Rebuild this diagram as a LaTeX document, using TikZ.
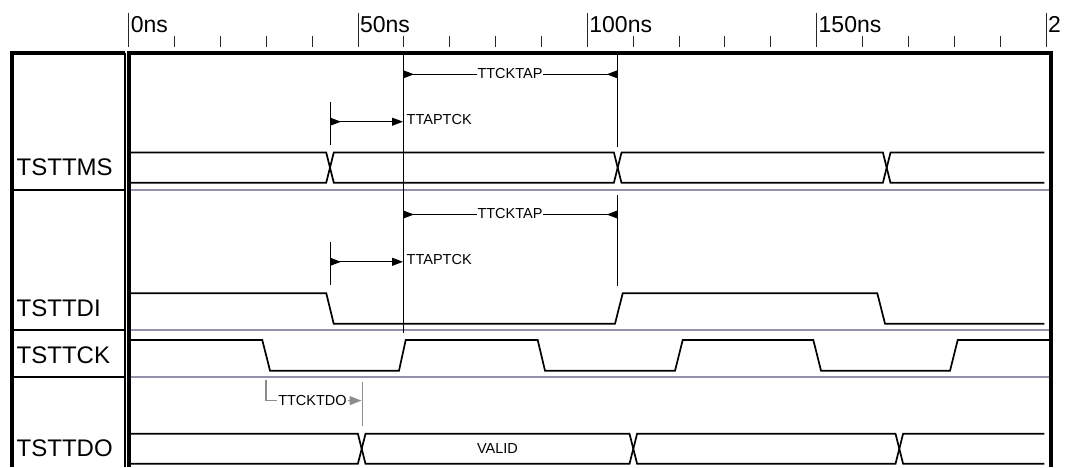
\documentclass[tikz,border=0pt]{standalone}
\usepackage{fontspec}
\setmainfont{Liberation Sans}
\usetikzlibrary{arrows.meta}
\definecolor{sepgray}{RGB}{145,145,172}
\definecolor{dimgray}{RGB}{140,140,140}
\begin{document}
\begin{tikzpicture}[x=1pt,y=-1pt,
  sig/.style={line width=1.7pt,line join=miter,line cap=butt},
  sepline/.style={line width=1.5pt,draw=sepgray},
  colsep/.style={line width=2pt},
  frameline/.style={line width=4pt,line join=miter},
  tickline/.style={line width=1pt,draw=black!85},
  marker/.style={line width=1pt},
  dimline/.style={line width=1pt},
  graydim/.style={line width=1.3pt,draw=dimgray},
  axlbl/.style={anchor=base west,inner sep=0pt,font=\fontsize{23}{27}\selectfont},
  siglbl/.style={anchor=base west,inner sep=0pt,font=\fontsize{24}{28}\selectfont},
  small/.style={inner xsep=0.6pt,inner ysep=0pt,font=\fontsize{14.5}{17}\selectfont},
]
\useasboundingbox (0,0) rectangle (1065,467);

% ---- time axis ----
\foreach \k in {0,...,20}{
  \pgfmathsetmacro{\xx}{128.8+45.86*\k}
  \draw[tickline] (\xx,36) -- (\xx,46.7);
}
\foreach \k in {0,5,10,15,20}{
  \pgfmathsetmacro{\xx}{128.8+45.86*\k}
  \draw[tickline] (\xx,12.7) -- (\xx,46.7);
}
\node[axlbl] (a0)   at (130.6,32.3) {0ns};
\node[axlbl] (a50)  at (359.9,32.3) {50ns};
\node[axlbl] (a100) at (589.2,32.3) {100ns};
\node[axlbl] (a150) at (818.5,32.3) {150ns};
\node[axlbl] (a200) at (1047.8,32.3) {2};

% ---- label column ----
\draw[frameline] (12.3,467) -- (12.3,52.5) -- (125,52.5);
\draw[line width=2.6pt] (125,52.5) -- (125,467);
\draw[colsep] (12.3,190) -- (125,190);
\draw[colsep] (12.3,330) -- (125,330);
\draw[colsep] (12.3,377) -- (125,377);
\node[siglbl] (lTMS) at (16.5,175)   {TSTTMS};
\node[siglbl] (lTDI) at (16.5,316.7) {TSTTDI};
\node[siglbl] (lTCK) at (16.5,363.3) {TSTTCK};
\node[siglbl] (lTDO) at (16.5,456.7) {TSTTDO};

% ---- plot frame ----
\draw[frameline] (129,467) -- (129,52.5) -- (1051,52.5) -- (1051,467);

% ---- row separators ----
\draw[sepline] (131,190) -- (1049,190);
\draw[sepline] (131,330) -- (1049,330);
\draw[sepline] (131,377.2) -- (1049,377.2);

% ---- waveforms ----
% TSTTMS (bus)
\draw[sig] (131,152.5) -- (326.2,152.5) -- (333.8,182.8) -- (613.9,182.8) -- (621.5,152.5) -- (882.9,152.5) -- (890.5,182.8) -- (1044.3,182.8);
\draw[sig] (131,182.8) -- (326.2,182.8) -- (333.8,152.5) -- (613.9,152.5) -- (621.5,182.8) -- (882.9,182.8) -- (890.5,152.5) -- (1044.3,152.5);
% TSTTDI
\draw[sig] (131,293.3) -- (326.3,293.3) -- (333.7,323.7) -- (615,323.7) -- (622.7,293.3) -- (877.3,293.3) -- (885,323.7) -- (1044.3,323.7);
% TSTTCK
\draw[sig] (131,340) -- (262.3,340) -- (270,370.7) -- (399,370.7) -- (405.7,340) -- (537.7,340) -- (545,370.7) -- (675,370.7) -- (682.7,340) -- (813.3,340) -- (821,370.7) -- (950,370.7) -- (957.7,340) -- (1049,340);
% TSTTDO (bus)
\draw[sig] (131,433.8) -- (357.9,433.8) -- (365.5,463.8) -- (629.5,463.8) -- (637.1,433.8) -- (895.5,433.8) -- (903.1,463.8) -- (1044.3,463.8);
\draw[sig] (131,463.8) -- (357.9,463.8) -- (365.5,433.8) -- (629.5,433.8) -- (637.1,463.8) -- (895.5,463.8) -- (903.1,433.8) -- (1044.3,433.8);
\node[small] (valid) at (497.5,448.3) {VALID};

% ---- marker lines ----
\coordinate (m60top) at (403,54.5);
\coordinate (m60bot) at (403,333);
\draw[marker] (m60top) -- (m60bot);
\coordinate (rA1) at (617.7,55);   \coordinate (rA2) at (617.7,147);
\coordinate (rB1) at (617.7,195);  \coordinate (rB2) at (617.7,286);
\coordinate (lA1) at (330,101.7);  \coordinate (lA2) at (330,145);
\coordinate (lB1) at (330,241.5);  \coordinate (lB2) at (330,284.5);
\draw[marker] (rA1) -- (rA2);
\draw[marker] (rB1) -- (rB2);
\draw[marker] (lA1) -- (lA2);
\draw[marker] (lB1) -- (lB2);

% ---- TSTTMS row dimensions ----
\node[small] (tapA) at (510,73.6) {TTCKTAP};
\coordinate (tapAl) at (403,74.3);
\coordinate (tapAr) at (617.7,74.3);
\draw[dimline,{Triangle[length=11pt,width=8pt,reversed]}-] (tapAl) -- (tapAl -| tapA.west);
\draw[dimline,-{Triangle[length=11pt,width=8pt,reversed]}] (tapAr -| tapA.east) -- (tapAr);
\coordinate (aptAl) at (330,121.7);
\coordinate (aptAr) at (403,121.7);
\draw[dimline,{Triangle[length=11pt,width=8pt,reversed]}-{Triangle[length=11pt,width=8pt]}] (aptAl) -- (aptAr);
\node[small,anchor=west,inner xsep=0pt] (aptA) at (406.5,119.3) {TTAPTCK};

% ---- TSTTDI row dimensions ----
\node[small] (tapB) at (510,213.8) {TTCKTAP};
\coordinate (tapBl) at (403,214.5);
\coordinate (tapBr) at (617.7,214.5);
\draw[dimline,{Triangle[length=11pt,width=8pt,reversed]}-] (tapBl) -- (tapBl -| tapB.west);
\draw[dimline,-{Triangle[length=11pt,width=8pt,reversed]}] (tapBr -| tapB.east) -- (tapBr);
\coordinate (aptBl) at (330,261.8);
\coordinate (aptBr) at (403,261.8);
\draw[dimline,{Triangle[length=11pt,width=8pt,reversed]}-{Triangle[length=11pt,width=8pt]}] (aptBl) -- (aptBr);
\node[small,anchor=west,inner xsep=0pt] (aptB) at (406.5,259.5) {TTAPTCK};

% ---- TTCKTDO ----
\node[small] (tdo) at (312.5,400.6) {TTCKTDO};
\coordinate (tdoS) at (266,380);
\coordinate (tdoE) at (361.5,400.6);
\coordinate (tdoV1) at (362.3,382);
\coordinate (tdoV2) at (362.3,426);
\draw[graydim] (tdoS) |- (tdo.west);
\draw[graydim,-{Triangle[length=12pt,width=9pt]},dimgray] (tdo.east) -- (tdoE);
\draw[graydim] (tdoV1) -- (tdoV2);
\end{tikzpicture}
\end{document}
